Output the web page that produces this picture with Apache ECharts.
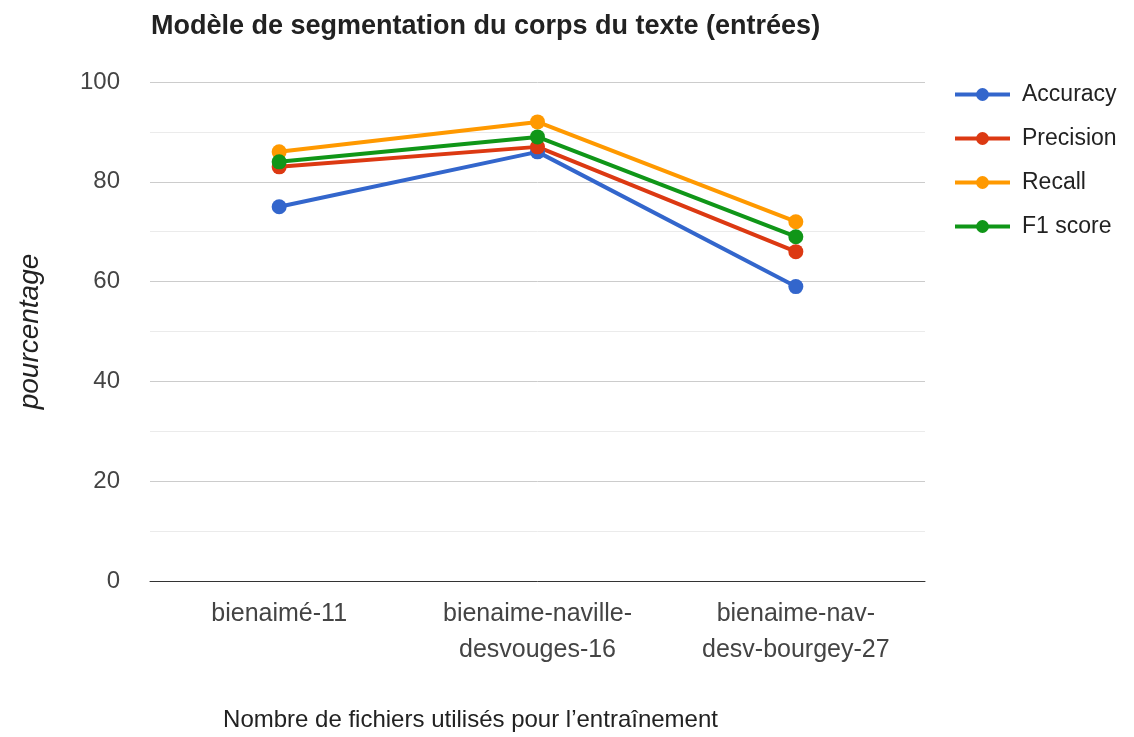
<!DOCTYPE html>
<html>
<head>
<meta charset="utf-8">
<script src="https://cdn.jsdelivr.net/npm/echarts@6/dist/echarts.min.js"></script>
<style>
html, body { margin: 0; padding: 0; background: #fff; }
#chart { width: 1134px; height: 737px; }
</style>
</head>
<body>
<div id="chart"></div>
<script>
var categories = ['bienaimé-11', 'bienaime-naville-\ndesvouges-16', 'bienaime-nav-\ndesv-bourgey-27'];
var accuracy = [75, 86, 59];
var precision = [83, 87, 66];
var recall = [86, 92, 72];
var f1score = [84, 89, 69];

var seriesNames = ['Accuracy', 'Precision', 'Recall', 'F1 score'];
var seriesData = [accuracy, precision, recall, f1score];
var colors = ['#3366cc', '#dc3912', '#ff9900', '#109618'];

var font = 'Liberation Sans, Arial, sans-serif';

var series = [];
for (var i = 0; i < seriesNames.length; ++i) {
    series.push({
        name: seriesNames[i],
        type: 'line',
        data: seriesData[i],
        symbol: 'circle',
        symbolSize: 15,
        lineStyle: { width: 4, color: colors[i] },
        itemStyle: { color: colors[i] }
    });
}

var chart = echarts.init(document.getElementById('chart'));
chart.setOption({
    animation: false,
    title: {
        text: 'Modèle de segmentation du corps du texte (entrées)',
        left: 146,
        top: 8,
        textStyle: { fontFamily: font, fontSize: 27, fontWeight: 'bold', color: '#222' }
    },
    legend: {
        orient: 'vertical',
        left: 948,
        top: 78,
        itemGap: 21,
        itemWidth: 55,
        itemHeight: 16,
        lineStyle: { width: 4 },
        textStyle: { fontFamily: font, fontSize: 23, color: '#222', padding: [0, 0, 0, 7] },
        data: seriesNames
    },
    grid: { left: 150, right: 209, top: 82, bottom: 154, containLabel: false },
    xAxis: {
        type: 'category',
        data: categories,
        boundaryGap: true,
        axisLine: { lineStyle: { color: '#333', width: 1 } },
        axisTick: { show: false },
        axisLabel: { fontFamily: font, fontSize: 25, color: '#444', lineHeight: 36, margin: 15, verticalAlign: 'top' },
        name: 'Nombre de fichiers utilisés pour l’entraînement',
        nameLocation: 'middle',
        nameGap: 127,
        nameTextStyle: { fontFamily: font, fontSize: 24, color: '#222', padding: [0, 134, 0, 0] }
    },
    yAxis: {
        type: 'value',
        min: 0,
        max: 100,
        interval: 20,
        axisLine: { show: false },
        axisTick: { show: false },
        axisLabel: { fontFamily: font, fontSize: 24, color: '#444', margin: 30 },
        splitLine: { lineStyle: { color: '#ccc', width: 1 } },
        minorTick: { show: false, splitNumber: 2 },
        minorSplitLine: { show: true, lineStyle: { color: '#ebebeb', width: 1 } },
        name: 'pourcentage',
        nameLocation: 'middle',
        nameGap: 106,
        nameRotate: 90,
        nameTextStyle: { fontFamily: font, fontSize: 28, fontStyle: 'italic', color: '#222' }
    },
    series: series
});
</script>
</body>
</html>
